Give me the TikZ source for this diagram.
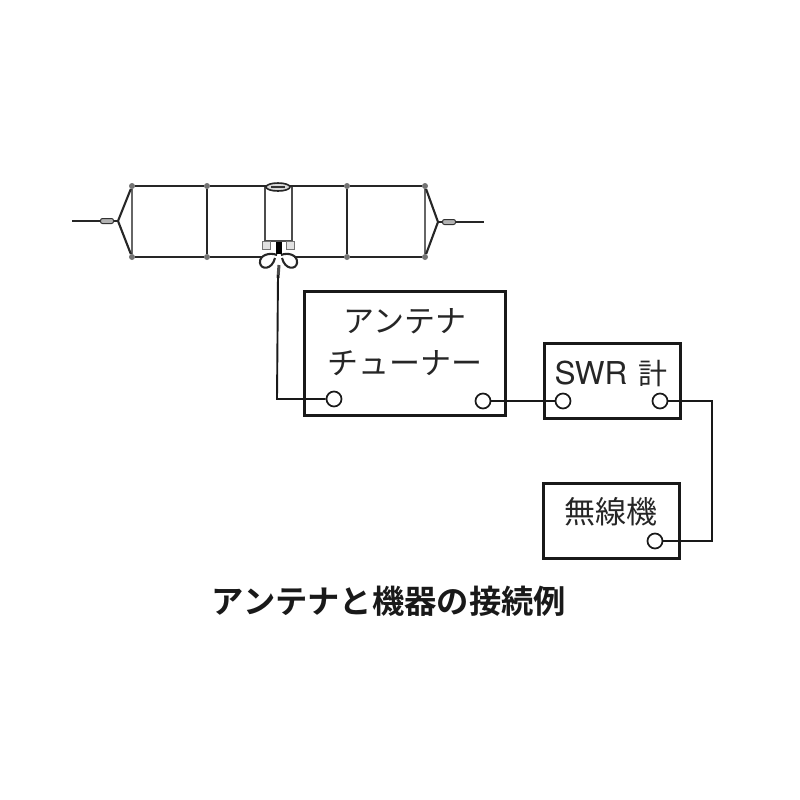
\documentclass[tikz,border=0pt]{standalone}
\usepackage{fontspec}
\setmainfont{TeX Gyre Heros}
\newfontfamily\cjkr{Noto Sans CJK JP}
\newfontfamily\cjkb{Noto Sans CJK JP Bold}
\usetikzlibrary{shapes.geometric}
\begin{document}
\begin{tikzpicture}[x=1pt,y=-1pt,
  box/.style={draw=black!90,line width=2.8pt,inner sep=0pt},
  port/.style={circle,draw=black!90,fill=white,line width=1.7pt,minimum size=15pt,inner sep=0pt},
  wire/.style={draw=black!90,line width=1.9pt},
  ant/.style={draw=black!85,line width=2.1pt},
  lbl/.style={font=\cjkr\fontsize{31}{31}\selectfont,text=black!85,inner sep=0pt},
  joint/.style={circle,fill=black!55,minimum size=6pt,inner sep=0pt},
  insul/.style={draw=black!80,fill=black!30,line width=1pt,rounded corners=2pt,minimum width=13pt,minimum height=5pt,inner sep=0pt}]
\useasboundingbox (0,0) rectangle (800,800);
% antenna
\node[joint] (a1) at (132,186) {};
\node[joint] (a2) at (207,186) {};
\node[joint] (a3) at (347,186) {};
\node[joint] (a4) at (425,186) {};
\node[joint] (b1) at (132,257) {};
\node[joint] (b2) at (207,257) {};
\node[joint] (b3) at (347,257) {};
\node[joint] (b4) at (425,257) {};
\coordinate (al) at (118,221);
\coordinate (ar) at (438,222);
\coordinate (wl) at (72,221);
\coordinate (wr) at (484,222);
\coordinate (bl) at (262,257);
\coordinate (br) at (294,257);
\draw[ant] (a1)--(a2)--(a3)--(a4) (b1)--(b2)--(bl) (br)--(b3)--(b4);
\draw[ant] (a2)--(b2) (a3)--(b3);
\draw[ant,draw=black!60] (a1)--(b1) (a4)--(b4);
\draw[ant] (a1)--(al)--(b1) (a4)--(ar)--(b4);
\draw[ant] (wl)--(al) (ar)--(wr);
\node[insul] (il) at (107,221) {};
\node[insul] (ir) at (449,222) {};
% centre section
\coordinate (c1) at (265,187);
\coordinate (c2) at (292,187);
\coordinate (c3) at (265,241);
\coordinate (c4) at (292,241);
\draw[ant,line width=1.8pt,draw=black!70] (c1)--(c3)--(c4)--(c2);
\node[ellipse,draw=black!85,fill=black!15,line width=1.6pt,minimum width=24pt,minimum height=8pt,inner sep=0pt] (top) at (278,187) {};
\node[fill=black!80,minimum width=14pt,minimum height=2pt,inner sep=0pt] (topcore) at (278,187) {};
\node[draw=black!55,fill=black!12,line width=1pt,minimum width=8pt,minimum height=8pt,inner sep=0pt] (s1) at (266,245) {};
\node[draw=black!55,fill=black!12,line width=1pt,minimum width=8pt,minimum height=8pt,inner sep=0pt] (s2) at (290,245) {};
\node[fill=black,minimum width=6pt,minimum height=12pt,inner sep=0pt] (core) at (279,248) {};
\coordinate (w0) at (277,255);
\coordinate (w1) at (281,255);
\draw[ant] (w0) .. controls (270,252) and (259,255) .. (260,263) .. controls (261,270) and (272,270) .. (275,258);
\draw[ant] (w1) .. controls (288,252) and (298,255) .. (297,263) .. controls (296,270) and (285,270) .. (282,258);
\coordinate (tip) at (279,265);
% devices
\node[box,minimum width=201pt,minimum height=124pt] (tuner) at (405,353.5) {};
\node[box,minimum width=136pt,minimum height=75pt] (swr) at (612.5,381) {};
\node[box,minimum width=136pt,minimum height=75pt] (rig) at (611.5,520.8) {};
\node[lbl] (t1) at (405,321) {アンテナ};
\node[lbl] (t2) at (405,363) {チューナー};
\node[lbl,anchor=base] (t3) at (611,384) {{\rmfamily\fontsize{31.5}{31.5}\selectfont SWR}\hspace{11pt}{\fontsize{29}{29}\selectfont 計}};
\node[lbl] (t4) at (611,512) {無線機};
\node[port] (p1) at (334,399) {};
\node[port] (p2) at (483,401) {};
\node[port] (p3) at (563,401) {};
\node[port] (p4) at (660,401) {};
\node[port] (p5) at (655,541) {};
\coordinate (k1) at (277,399);
\coordinate (k2) at (712,401);
\coordinate (k3) at (712,541);
\draw[draw=black!70,line width=3pt] (tip) -- (278,278);
\draw[wire] (278,275) -- (k1) -- (p1);
\draw[wire] (p2) -- (p3);
\draw[wire] (p4) -- (k2) -- (k3) -- (p5);
\node[font=\cjkb\fontsize{32.3}{32.3}\selectfont,text=black!90,inner sep=0pt] (title) at (389,601) {アンテナと機器の接続例};
\end{tikzpicture}
\end{document}
